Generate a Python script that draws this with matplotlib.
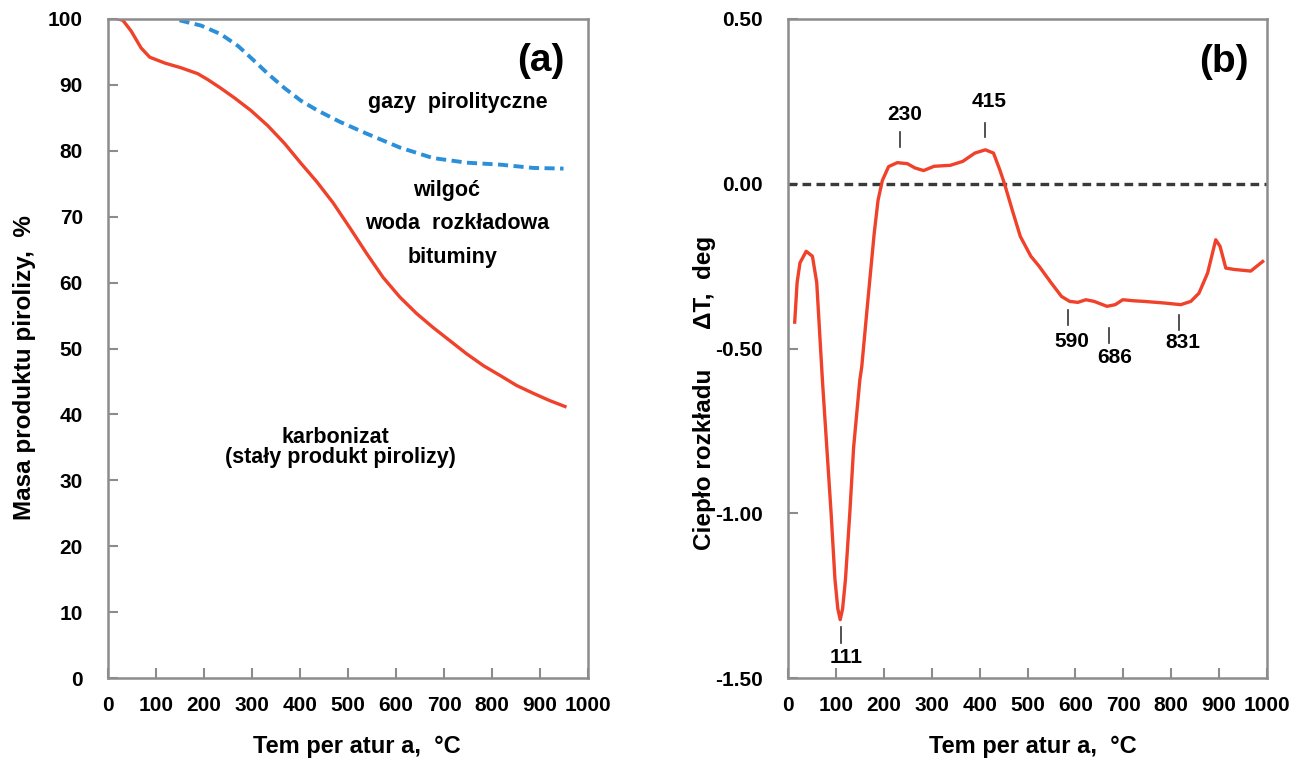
import matplotlib
matplotlib.use('Agg')
import matplotlib.pyplot as plt

plt.rcParams['font.family'] = ['Liberation Sans', 'DejaVu Sans']
plt.rcParams['font.weight'] = 'bold'

# --- data ---
# (a) TG: mass of solid product vs temperature
tg_temp = [21, 31, 48, 69, 87, 119, 152, 187, 208, 235, 264, 298, 333, 368, 402,
           435, 469, 504, 539, 573, 608, 643, 677, 712, 747, 782, 817, 851, 886,
           920, 952]
tg_mass = [100, 99.8, 98.2, 95.6, 94.2, 93.3, 92.6, 91.7, 90.8, 89.5, 88.0, 86.1,
           83.8, 81.1, 78.1, 75.3, 72.1, 68.3, 64.4, 60.8, 57.8, 55.3, 53.2, 51.2,
           49.2, 47.4, 45.9, 44.4, 43.2, 42.1, 41.2]

# (a) upper dashed curve (gases boundary)
gas_temp = [149, 194, 235, 271, 298, 333, 368, 402, 437, 483, 539, 608, 677, 747,
            817, 886, 949]
gas_mass = [99.8, 99.0, 97.7, 95.9, 94.1, 91.7, 89.5, 87.6, 86.1, 84.4, 82.6, 80.5,
            78.9, 78.2, 77.9, 77.4, 77.3]

# (b) DTA curve
dta_temp = [14, 19, 25, 38, 51, 60, 66, 72, 81, 90, 98, 104, 109, 114, 120, 129,
            137, 150, 154, 167, 180, 188, 197, 210, 228, 249, 265, 283, 305, 339,
            365, 390, 412, 429, 442, 452, 468, 485, 507, 524, 549, 571, 588, 605,
            622, 639, 666, 683, 699, 720, 743, 786, 820, 841, 858, 876, 893, 902,
            914, 931, 966, 991]
dta_dT = [-0.42, -0.30, -0.24, -0.205, -0.22, -0.30, -0.45, -0.60, -0.80, -1.0,
          -1.20, -1.29, -1.323, -1.29, -1.20, -1.0, -0.80, -0.595, -0.555, -0.35,
          -0.15, -0.05, 0.01, 0.052, 0.064, 0.061, 0.048, 0.04, 0.053, 0.056,
          0.068, 0.093, 0.103, 0.093, 0.043, 0.0, -0.079, -0.16, -0.22, -0.25,
          -0.30, -0.342, -0.357, -0.36, -0.352, -0.357, -0.372, -0.367, -0.352,
          -0.355, -0.357, -0.362, -0.367, -0.357, -0.332, -0.271, -0.17, -0.19,
          -0.256, -0.26, -0.265, -0.236]

# peak labels on (b)
peak_labels = ['111', '230', '415', '590', '686', '831']
peak_tick_x = [111, 234, 411, 584, 670, 816]
peak_tick_y0 = [-1.344, 0.158, 0.185, -0.382, -0.437, -0.398]
peak_tick_y1 = [-1.393, 0.112, 0.143, -0.428, -0.483, -0.443]
peak_text_x = [121, 244, 420, 593, 683, 825]
peak_text_y = [-1.439, 0.209, 0.249, -0.48, -0.528, -0.483]

x_ticks = [0, 100, 200, 300, 400, 500, 600, 700, 800, 900, 1000]
y_ticks_a = [0, 10, 20, 30, 40, 50, 60, 70, 80, 90, 100]
y_ticks_b = [0.5, 0.0, -0.5, -1.0, -1.5]
y_labels_b = ['0.50', '0.00', '-0.50', '-1.00', '-1.50']

red = '#f0412b'
blue = '#2b8fd9'
spine_col = '#8c8c8c'
tick_fs = 15
note_fs = 15.5

W, H = 1297, 760
fig = plt.figure(figsize=(W / 100, H / 100), dpi=100)
ax1 = fig.add_axes([108 / W, 1 - 678 / H, 480 / W, 659 / H])
ax2 = fig.add_axes([788 / W, 1 - 678 / H, 479 / W, 659 / H])


def style(ax):
    for s in ax.spines.values():
        s.set_color(spine_col)
        s.set_linewidth(1.8)
    ax.tick_params(axis='both', direction='in', length=7, width=1.5,
                   color=spine_col, labelsize=tick_fs)
    ax.tick_params(axis='y', pad=18)
    ax.tick_params(axis='x', pad=13)
    ax.set_xlim(0, 1000)
    ax.set_xticks(x_ticks)
    ax.set_xticklabels([str(t) for t in x_ticks], fontweight='bold')


# --- panel (a) ---
style(ax1)
ax1.plot(tg_temp, tg_mass, color=red, linewidth=2.4)
ax1.plot(gas_temp, gas_mass, color=blue, linewidth=2.8, linestyle=(0, (2.6, 1.4)))
ax1.set_ylim(0, 100)
ax1.set_yticks(y_ticks_a)
ax1.set_yticklabels([str(t) for t in y_ticks_a], fontweight='bold')

ax1.text(952, 93.6, '(a)', fontsize=28, ha='right', va='center')
ax1.text(729, 87.3, 'gazy  pirolityczne', fontsize=note_fs, ha='center', va='center')
ax1.text(706, 73.9, 'wilgoć', fontsize=note_fs, ha='center', va='center')
ax1.text(727, 68.9, 'woda  rozkładowa', fontsize=note_fs, ha='center', va='center')
ax1.text(717, 63.8, 'bituminy', fontsize=note_fs, ha='center', va='center')
ax1.text(473, 36.5, 'karbonizat', fontsize=note_fs, ha='center', va='center')
ax1.text(485, 33.5, '(stały produkt pirolizy)', fontsize=note_fs, ha='center', va='center')

fig.text(25 / W, 1 - 368 / H, 'Masa produktu pirolizy,  %', rotation=90,
         fontsize=17.5, ha='center', va='center')
fig.text(357 / W, 1 - 747 / H, 'Tem per atur a,  °C', fontsize=17,
         ha='center', va='center')

# --- panel (b) ---
style(ax2)
ax2.axhline(0, color='#3a3a3a', linewidth=2.4, linestyle=(0, (2.6, 1.6)))
ax2.plot(dta_temp, dta_dT, color=red, linewidth=2.4)
ax2.set_ylim(-1.5, 0.5)
ax2.set_yticks(y_ticks_b)
ax2.set_yticklabels(y_labels_b, fontweight='bold')

for lab, tx, y0, y1, lx, ly in zip(peak_labels, peak_tick_x, peak_tick_y0,
                                   peak_tick_y1, peak_text_x, peak_text_y):
    ax2.plot([tx, tx], [y0, y1], color='#333333', linewidth=1.2)
    ax2.text(lx, ly, lab, fontsize=15, ha='center', va='center')

ax2.text(962, 0.37, '(b)', fontsize=28, ha='right', va='center')

fig.text(705 / W, 1 - 393 / H, 'Ciepło rozkładu      ΔT,  deg', rotation=90,
         fontsize=17.5, ha='center', va='center')
fig.text(1033 / W, 1 - 747 / H, 'Tem per atur a,  °C', fontsize=17,
         ha='center', va='center')

fig.savefig('out.png', dpi=100)
